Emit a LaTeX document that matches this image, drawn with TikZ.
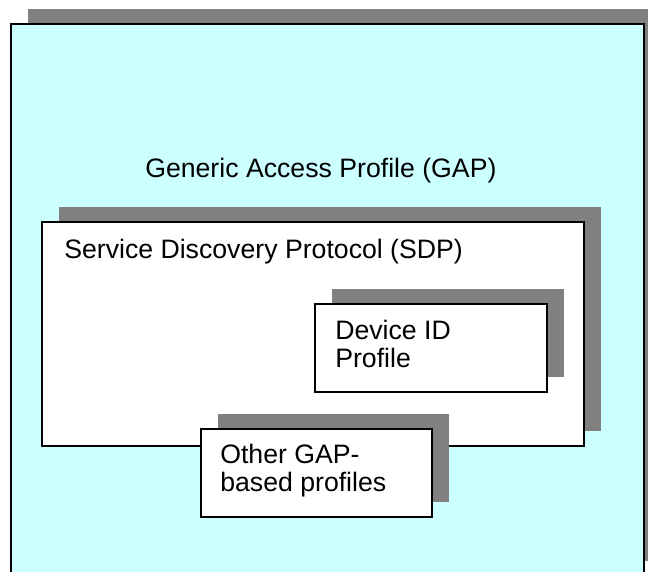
\documentclass[tikz,border=0pt]{standalone}
\usepackage{fontspec}
\setmainfont{Liberation Sans}
\usetikzlibrary{positioning}
\definecolor{gapcyan}{RGB}{204,255,255}
\definecolor{dropgray}{RGB}{128,128,128}

\begin{document}
\begin{tikzpicture}[x=0.75pt,y=-0.75pt,
  boxline/.style={draw=black,line width=1.5pt},
  drop/.style={fill=dropgray},
  lbl/.style={font=\fontsize{20}{21}\selectfont,inner sep=0pt,anchor=base west,align=left}]
\clip (0,0) rectangle (648,571);
\pgfmathsetmacro{\dx}{17}  % shadow offset
\pgfmathsetmacro{\dy}{15}

% Generic Access Profile
\fill[drop] (11+\dx,24-\dy) rectangle (644+\dx,576-\dy);
\draw[boxline,fill=gapcyan] (11,24) rectangle (644,576);
\node[lbl] (gap) at (145,177) {Generic Access Profile (GAP)};

% Service Discovery Protocol
\fill[drop] (42+\dx,222-\dy) rectangle (584+\dx,446-\dy);
\draw[boxline,fill=white] (42,222) rectangle (584,446);
\node[lbl] (sdp) at (64,258) {Service Discovery Protocol (SDP)};

% Device ID (base = last line)
\fill[drop] (315+\dx,304-\dy) rectangle (547+\dx,392-\dy);
\draw[boxline,fill=white] (315,304) rectangle (547,392);
\node[lbl] (devid) at (335,367) {Device ID\\Profile};

% other profiles
\fill[drop] (201+\dx,429-\dy) rectangle (432+\dx,517-\dy);
\draw[boxline,fill=white] (201,429) rectangle (432,517);
\node[lbl] (other) at (220,491) {Other GAP-\\based profiles};
\end{tikzpicture}
\end{document}
